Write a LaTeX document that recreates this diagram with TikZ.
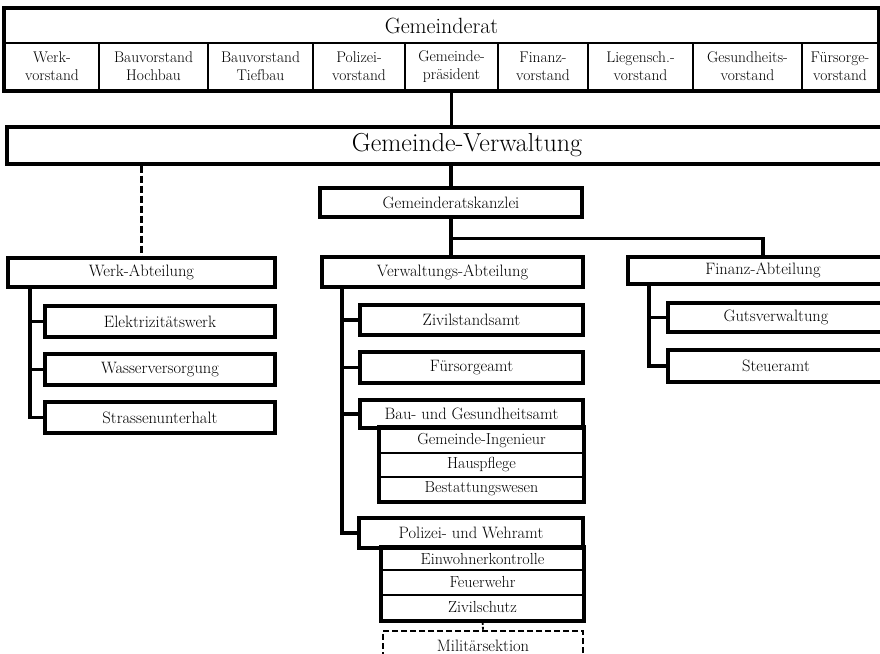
\documentclass[tikz,border=0pt]{standalone}
\newcommand\orgbox[7]{\node[#1,minimum width={(#5-#3)*1pt},minimum height={(#6-#4)*1pt}] (#2) at ({(#3+#5)/2},{(#4+#6)/2}) {#7};}
\begin{document}
\begin{tikzpicture}[x=1pt,y=-1pt,
  box/.style={draw,line width=3.2pt,inner sep=0pt,align=center,font=\fontsize{16.5}{18}\selectfont},
  cell/.style={draw,line width=1.8pt,inner sep=0pt,align=center,font=\fontsize{16}{18}\selectfont},
  dbox/.style={box,dash pattern=on 6pt off 3pt,line width=2.6pt},
  link/.style={line width=3.4pt},
  dlink/.style={line width=3.4pt,dash pattern=on 7pt off 3pt}]
\useasboundingbox (0,0) rectangle (880,653);
\clip (0,0) rectangle (880,653);
\orgbox{cell,font=\fontsize{22}{24}\selectfont}{council}{5}{9}{878}{43}{Gemeinderat}
\foreach \xa/\xb/\txt [count=\k] in {5/99/{Werk-\\vorstand}, 99/208/{Bauvorstand\\Hochbau},
  208/313/{Bauvorstand\\Tiefbau}, 313/405/{Polizei-\\vorstand}, 405/498/{Gemeinde-\\präsident},
  498/588/{Finanz-\\vorstand}, 588/693/{Liegensch.-\\vorstand}, 693/802/{Gesundheits-\\vorstand},
  802/878/{Fürsorge-\\vorstand}}
  {\orgbox{cell,font=\fontsize{15.5}{18}\selectfont}{m\k}{\xa}{43}{\xb}{90}{\txt}}
\draw[link] (council.north west) rectangle (m9.south east);
\orgbox{box,font=\fontsize{26}{28}\selectfont}{admin}{7}{127}{927}{164}{Gemeinde-Verwaltung}
\orgbox{box}{kanzlei}{320}{188}{582}{217}{Gemeinderatskanzlei}
\orgbox{box}{werk}{8}{258}{275}{287}{Werk-Abteilung}
\orgbox{box}{elek}{45}{306}{275}{337}{Elektrizitätswerk}
\orgbox{box}{wasser}{45}{354}{275}{385}{Wasserversorgung}
\orgbox{box}{strasse}{45}{402}{275}{433}{Strassenunterhalt}
\orgbox{box}{verw}{322}{257}{583}{287}{Verwaltungs-Abteilung}
\orgbox{box}{ziv}{360}{305}{583}{335}{Zivilstandsamt}
\orgbox{box}{fuer}{360}{352}{583}{383}{Fürsorgeamt}
\orgbox{box}{bau}{360}{400}{583}{428}{Bau- und Gesundheitsamt}
\orgbox{cell}{ing}{380}{428}{583}{453}{Gemeinde-Ingenieur}
\orgbox{cell}{haus}{380}{453}{583}{477}{Hauspflege}
\orgbox{cell}{best}{380}{477}{583}{501}{Bestattungswesen}
\orgbox{box}{pol}{359}{518}{583}{548}{Polizei- und Wehramt}
\orgbox{cell}{ein}{382}{548}{583}{570}{Einwohnerkontrolle}
\orgbox{cell}{feu}{382}{570}{583}{595}{Feuerwehr}
\orgbox{cell}{zs}{382}{595}{583}{620}{Zivilschutz}
\orgbox{dbox}{mil}{383}{631}{583}{660}{Militärsektion}
\orgbox{box}{finanz}{628}{257}{898}{284}{Finanz-Abteilung}
\orgbox{box}{guts}{668}{303}{884}{332}{Gutsverwaltung}
\orgbox{box}{steuer}{668}{350}{884}{382}{Steueramt}
\draw[link] (ing.north west) rectangle (best.south east);
\draw[link] (ein.north west) rectangle (zs.south east);
\draw[link] (m5.south) -- (m5.south |- admin.north);
\draw[link] (kanzlei.north |- admin.south) -- (kanzlei.north);
\draw[link] (kanzlei.south) -- (kanzlei.south |- verw.north);
\draw[link] (kanzlei.south) ++(0,20) -| (finanz.north);
\draw[dlink] (werk.north |- admin.south) -- (werk.north);
\draw[line width=1.8pt,dash pattern=on 4pt off 2pt] (zs.south) -- (mil.north);
\coordinate (ws) at (30,287);
\coordinate (vs) at (342,287);
\coordinate (fs) at (649,284);
\draw[link] (ws) |- (strasse.west);
\foreach \n in {elek,wasser} \draw[link] (ws |- \n.west) -- (\n.west);
\draw[link] (vs) |- (pol.west);
\foreach \n in {ziv,fuer,bau} \draw[link] (vs |- \n.west) -- (\n.west);
\draw[link] (fs) |- (steuer.west);
\draw[link] (fs |- guts.west) -- (guts.west);
\end{tikzpicture}
\end{document}
